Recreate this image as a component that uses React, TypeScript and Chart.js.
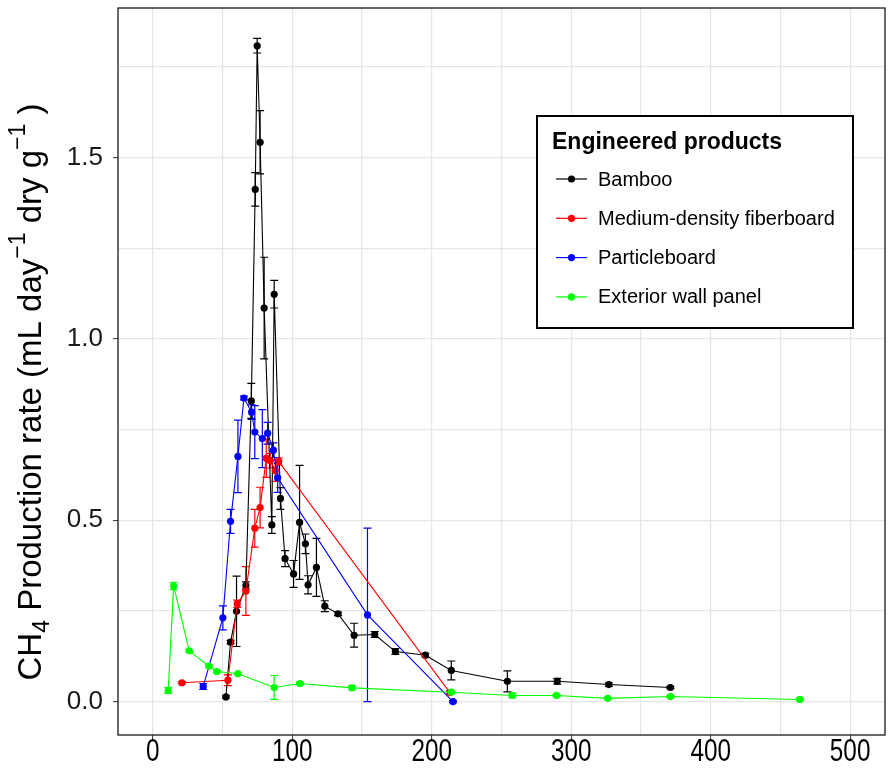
import React, { useEffect, useRef } from 'react';
import { Chart, registerables } from 'chart.js';

Chart.register(...registerables);

// ---------- data ----------
const seriesNames = ['Bamboo', 'Medium-density fiberboard', 'Particleboard', 'Exterior wall panel'];
const seriesColors = ['#000000', '#FF0000', '#0000FF', '#00FF00'];

const bambooDays = [52.4, 55.7, 60.0, 66.7, 70.6, 73.4, 74.8, 76.9, 79.8, 85.3, 87.0, 91.5, 94.8, 100.9, 105.2, 109.4, 111.3, 117.3, 123.3, 132.8, 144.3, 159.1, 173.9, 195.4, 214.0, 254.2, 290.0, 327.0, 371.1];
const bambooRate = [0.013, 0.164, 0.249, 0.320, 0.829, 1.412, 1.808, 1.542, 1.085, 0.487, 1.123, 0.560, 0.394, 0.352, 0.494, 0.435, 0.322, 0.370, 0.263, 0.242, 0.183, 0.185, 0.138, 0.128, 0.086, 0.056, 0.056, 0.047, 0.039];
const bambooErr = [0.003, 0.005, 0.097, 0.010, 0.048, 0.046, 0.020, 0.087, 0.140, 0.023, 0.038, 0.030, 0.022, 0.037, 0.157, 0.027, 0.025, 0.080, 0.015, 0.005, 0.033, 0.008, 0.008, 0.005, 0.026, 0.029, 0.008, 0.005, 0.003];

const mdfDays = [20.8, 53.8, 60.5, 66.7, 73.1, 76.9, 81.3, 84.2, 87.8, 90.2, 213.0];
const mdfRate = [0.052, 0.059, 0.270, 0.305, 0.478, 0.535, 0.671, 0.664, 0.637, 0.662, 0.025];
const mdfErr = [0.003, 0.015, 0.010, 0.067, 0.052, 0.056, 0.053, 0.020, 0.030, 0.010, 0.005];

const pbDays = [36.1, 50.2, 55.7, 61.0, 65.3, 70.8, 73.1, 78.5, 82.3, 86.4, 89.5, 153.9, 215.2];
const pbRate = [0.042, 0.231, 0.497, 0.676, 0.837, 0.798, 0.743, 0.725, 0.740, 0.693, 0.617, 0.239, 0.000];
const pbErr = [0.008, 0.033, 0.033, 0.100, 0.005, 0.020, 0.073, 0.080, 0.030, 0.020, 0.040, 0.239, 0.003];

const ewpDays = [11.0, 14.9, 26.1, 40.2, 45.9, 61.0, 87.0, 105.4, 142.8, 214.0, 257.7, 289.5, 326.2, 371.1, 464.0];
const ewpRate = [0.031, 0.319, 0.140, 0.098, 0.083, 0.077, 0.039, 0.050, 0.038, 0.026, 0.017, 0.017, 0.009, 0.014, 0.006];
const ewpErr = [0.008, 0.010, 0.003, 0.003, 0.003, 0.003, 0.033, 0.003, 0.006, 0.003, 0.006, 0.003, 0.003, 0.003, 0.003];

const xLimits = [-25, 525];
const yLimits = [-0.092, 1.912];
const xGridValues = [0, 50, 100, 150, 200, 250, 300, 350, 400, 450, 500];
const xLabelValues = [0, 100, 200, 300, 400, 500];
const yGridValues = [0, 0.25, 0.5, 0.75, 1.0, 1.25, 1.5, 1.75];
const yLabelValues = [0, 0.5, 1.0, 1.5];
const legendTitle = 'Engineered products';

const allDays = [bambooDays, mdfDays, pbDays, ewpDays];
const allRates = [bambooRate, mdfRate, pbRate, ewpRate];
const allErrs = [bambooErr, mdfErr, pbErr, ewpErr];

const FONT = '"Liberation Sans", Arial, Helvetica, sans-serif';

function buildPoints(days: number[], rates: number[]) {
  return days.map((d, i) => ({ x: d, y: rates[i] }));
}

const isIn = (arr: number[], v: number) => arr.some((a) => Math.abs(a - v) < 1e-6);

const errorBarPlugin = {
  id: 'errorBars',
  beforeDatasetsDraw(chart: any) {
    const ctx = chart.ctx;
    const xs = chart.scales.x;
    const ys = chart.scales.y;
    ctx.save();
    ctx.beginPath();
    ctx.rect(chart.chartArea.left, chart.chartArea.top, chart.chartArea.right - chart.chartArea.left, chart.chartArea.bottom - chart.chartArea.top);
    ctx.clip();
    allDays.forEach((days, s) => {
      ctx.strokeStyle = seriesColors[s];
      ctx.lineWidth = 1.2;
      days.forEach((d, i) => {
        const e = allErrs[s][i];
        if (!e) return;
        const px = xs.getPixelForValue(d);
        const top = ys.getPixelForValue(allRates[s][i] + e);
        const bot = ys.getPixelForValue(allRates[s][i] - e);
        ctx.beginPath();
        ctx.moveTo(px, top);
        ctx.lineTo(px, bot);
        ctx.moveTo(px - 4, top);
        ctx.lineTo(px + 4, top);
        ctx.moveTo(px - 4, bot);
        ctx.lineTo(px + 4, bot);
        ctx.stroke();
      });
    });
    ctx.restore();
  },
};

const decorPlugin = {
  id: 'decor',
  beforeDraw(chart: any) {
    const ctx = chart.ctx;
    ctx.save();
    ctx.fillStyle = '#FFFFFF';
    ctx.fillRect(0, 0, chart.width, chart.height);
    ctx.restore();
  },
  afterDraw(chart: any) {
    const ctx = chart.ctx;
    const a = chart.chartArea;
    const xs = chart.scales.x;
    ctx.save();
    // panel border
    ctx.strokeStyle = '#1a1a1a';
    ctx.lineWidth = 1.3;
    ctx.strokeRect(a.left, a.top, a.right - a.left, a.bottom - a.top);
    ctx.restore();

    // x tick labels (narrow, tall glyphs as in the original)
    ctx.save();
    ctx.fillStyle = '#000';
    ctx.font = `32px ${FONT}`;
    ctx.textAlign = 'center';
    ctx.textBaseline = 'middle';
    xLabelValues.forEach((v) => {
      const px = xs.getPixelForValue(v);
      ctx.save();
      ctx.translate(px, a.bottom + 17);
      ctx.scale(0.76, 1);
      ctx.fillText(String(v), 0, 0);
      ctx.restore();
    });
    ctx.restore();

    // y axis title with subscript / superscripts
    ctx.save();
    const size = 33;
    const parts = [
      { t: 'CH', s: 1, dy: 0 },
      { t: '4', s: 0.7, dy: 8 },
      { t: ' Production rate (mL day', s: 1, dy: 0 },
      { t: '\u22121', s: 0.7, dy: -16 },
      { t: ' dry g', s: 1, dy: 0 },
      { t: '\u22121', s: 0.7, dy: -16 },
      { t: ' )', s: 1, dy: 0 },
    ];
    let total = 0;
    const widths = parts.map((p) => {
      ctx.font = `${Math.round(size * p.s)}px ${FONT}`;
      const w = ctx.measureText(p.t).width;
      total += w;
      return w;
    });
    ctx.translate(41, 392);
    ctx.rotate(-Math.PI / 2);
    ctx.fillStyle = '#000';
    ctx.textBaseline = 'alphabetic';
    ctx.textAlign = 'left';
    let cx = -total / 2;
    parts.forEach((p, i) => {
      ctx.font = `${Math.round(size * p.s)}px ${FONT}`;
      ctx.fillText(p.t, cx, p.dy);
      cx += widths[i];
    });
    ctx.restore();

    // legend box
    ctx.save();
    const lx = a.left + 419;
    const ly = a.top + 108;
    const lw = 316;
    const lh = 212;
    ctx.fillStyle = '#FFFFFF';
    ctx.fillRect(lx, ly, lw, lh);
    ctx.strokeStyle = '#000';
    ctx.lineWidth = 2;
    ctx.strokeRect(lx, ly, lw, lh);
    ctx.fillStyle = '#000';
    ctx.font = `bold 23px ${FONT}`;
    ctx.textBaseline = 'alphabetic';
    ctx.fillText(legendTitle, lx + 15, ly + 33);
    seriesNames.forEach((name, i) => {
      const cy = ly + 63 + i * 39.3;
      ctx.strokeStyle = seriesColors[i];
      ctx.lineWidth = 1.2;
      ctx.beginPath();
      ctx.moveTo(lx + 19, cy);
      ctx.lineTo(lx + 50, cy);
      ctx.stroke();
      ctx.fillStyle = seriesColors[i];
      ctx.beginPath();
      ctx.arc(lx + 34.5, cy, 3.6, 0, Math.PI * 2);
      ctx.fill();
      ctx.fillStyle = '#000';
      ctx.font = `20px ${FONT}`;
      ctx.textBaseline = 'middle';
      ctx.fillText(name, lx + 61, cy + 1);
    });
    ctx.restore();
  },
};

export default function App() {
  const canvasRef = useRef<HTMLCanvasElement>(null);

  useEffect(() => {
    const canvas = canvasRef.current;
    if (!canvas) return;
    const datasets = seriesNames.map((name, s) => ({
      label: name,
      data: buildPoints(allDays[s], allRates[s]),
      showLine: true,
      borderColor: seriesColors[s],
      backgroundColor: seriesColors[s],
      borderWidth: 1.1,
      pointRadius: 3.6,
      pointBorderWidth: 0,
      pointBackgroundColor: seriesColors[s],
      tension: 0,
      order: seriesNames.length - s,
    }));

    const chart = new Chart(canvas, {
      type: 'scatter',
      data: { datasets },
      plugins: [decorPlugin, errorBarPlugin],
      options: {
        animation: false,
        responsive: false,
        devicePixelRatio: 1,
        layout: { padding: { top: 8, right: 5, left: 0, bottom: 0 } },
        plugins: {
          legend: { display: false },
          tooltip: { enabled: false },
          title: { display: false },
        },
        scales: {
          x: {
            type: 'linear',
            min: xLimits[0],
            max: xLimits[1],
            afterBuildTicks: (scale: any) => {
              scale.ticks = xGridValues.map((v) => ({ value: v }));
            },
            afterFit: (scale: any) => {
              scale.height = 42;
              scale.paddingLeft = 0;
              scale.paddingRight = 0;
            },
            border: { display: false },
            grid: {
              color: '#E6E6E6',
              lineWidth: 1.2,
              tickLength: 5,
              tickColor: (c: any) => (c.tick && isIn(xLabelValues, c.tick.value) ? '#333333' : 'rgba(0,0,0,0)'),
              tickWidth: 1,
            },
            ticks: {
              autoSkip: false,
              maxRotation: 0,
              padding: 1,
              color: '#000',
              font: { family: FONT, size: 12 },
              callback: () => '',
            },
          },
          y: {
            type: 'linear',
            min: yLimits[0],
            max: yLimits[1],
            afterBuildTicks: (scale: any) => {
              scale.ticks = yGridValues.map((v) => ({ value: v }));
            },
            afterFit: (scale: any) => {
              scale.width = 118;
              scale.paddingTop = 0;
              scale.paddingBottom = 0;
            },
            border: { display: false },
            grid: {
              color: '#E6E6E6',
              lineWidth: 1.2,
              tickLength: 5,
              tickColor: (c: any) => (c.tick && isIn(yLabelValues, c.tick.value) ? '#333333' : 'rgba(0,0,0,0)'),
              tickWidth: 1,
            },
            ticks: {
              autoSkip: false,
              padding: 10,
              color: '#1a1a1a',
              font: { family: FONT, size: 26 },
              callback: (v: any) => (isIn(yLabelValues, Number(v)) ? Number(v).toFixed(1) : ''),
            },
          },
        },
      },
    } as any);
    return () => chart.destroy();
  }, []);

  return (
    <div style={{ position: 'fixed', left: 0, top: 0, width: 890, height: 777, background: '#fff' }}>
      <canvas ref={canvasRef} width={890} height={777} style={{ width: 890, height: 777, display: 'block' }} />
    </div>
  );
}
